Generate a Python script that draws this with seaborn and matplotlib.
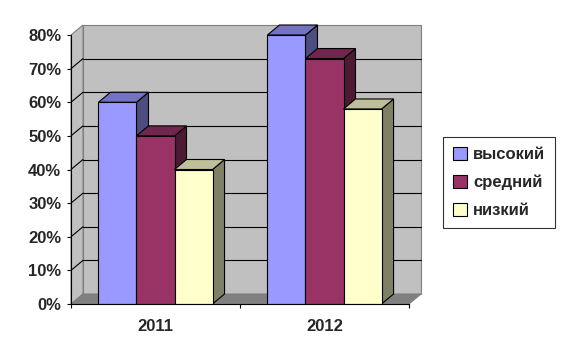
import numpy as np
import pandas as pd
import matplotlib
matplotlib.use("Agg")
import matplotlib.pyplot as plt
import matplotlib.transforms as mtransforms
from matplotlib.patches import Polygon, Patch, Rectangle
from matplotlib.ticker import FuncFormatter
import seaborn as sns

# data
years = ["2011", "2012"]
levels = ["высокий", "средний", "низкий"]
high = [0.60, 0.80]
mid = [0.50, 0.73]
low = [0.40, 0.58]
y_ticks = [0.0, 0.1, 0.2, 0.3, 0.4, 0.5, 0.6, 0.7, 0.8]

colors = ["#9999FF", "#993366", "#FFFFCC"]
WALL = "#C0C0C0"
FLOOR = "#808080"
DX, DY = 12, 10   # depth of the 3D effect in pixels
DPI = 100

df = pd.DataFrame({
    "year": years * 3,
    "level": [levels[0]] * 2 + [levels[1]] * 2 + [levels[2]] * 2,
    "value": high + mid + low,
})


def shade(hex_color, f):
    rgb = np.array(matplotlib.colors.to_rgb(hex_color)) * f
    return tuple(rgb)


sns.set_style("white")
plt.rcParams["font.family"] = ["Liberation Sans", "DejaVu Sans"]
plt.rcParams["font.weight"] = "bold"

fig = plt.figure(figsize=(5.63, 3.59), dpi=DPI)
ax = fig.add_axes([71 / 563, 1 - 304 / 359, (409 - 71) / 563, (304 - 35) / 359])

sns.barplot(data=df, x="year", y="value", hue="level", hue_order=levels,
            palette=colors, saturation=1, width=0.675, errorbar=None,
            edgecolor="black", linewidth=0.8, ax=ax, legend=False)
bars = list(ax.patches)

ax.set_xlim(-0.5, 1.5)
ax.set_ylim(0, 0.8)
ax.set_autoscale_on(False)
ax.set_xlabel("")
ax.set_ylabel("")
ax.patch.set_visible(False)

px = lambda x, y: ax.transData.transform((x, y))
back = ax.transData + mtransforms.ScaledTranslation(DX / DPI, DY / DPI, fig.dpi_scale_trans)


def add_poly(pts, fc, ec, lw=0.8, z=1):
    poly = Polygon(pts, closed=True, facecolor=fc, edgecolor=ec, linewidth=lw,
                   transform=mtransforms.IdentityTransform(), clip_on=False, zorder=z)
    ax.add_artist(poly)


# back wall
ax.add_artist(Rectangle((-0.5, 0), 2, 0.8, facecolor=WALL, edgecolor=FLOOR,
                        linewidth=0.8, transform=back, clip_on=False, zorder=0.5))
# side wall
p0, p1 = px(-0.5, 0), px(-0.5, 0.8)
add_poly([p0, p1, p1 + (DX, DY), p0 + (DX, DY)], WALL, FLOOR, z=0.6)
# floor
f0, f1 = px(-0.5, 0), px(1.5, 0)
add_poly([f0, f1, f1 + (DX, DY), f0 + (DX, DY)], FLOOR, FLOOR, z=0.7)

# gridlines on the back wall and on the side wall
for t in y_ticks[1:-1]:
    ax.plot([-0.5, 1.5], [t, t], color="black", linewidth=0.8, transform=back,
            clip_on=False, zorder=0.8)
    a = px(-0.5, t)
    b = a + (DX, DY)
    ax.add_artist(matplotlib.lines.Line2D([a[0], b[0]], [a[1], b[1]], color="black",
                                          linewidth=0.8, transform=mtransforms.IdentityTransform(),
                                          clip_on=False, zorder=0.8))

# 3D faces for each bar
hexes = [c.lower() for c in colors]
for bar in bars:
    fc = matplotlib.colors.to_hex(bar.get_facecolor()).lower()
    idx = hexes.index(fc) if fc in hexes else 0
    x0, x1 = bar.get_x(), bar.get_x() + bar.get_width()
    h = bar.get_height()
    z = 3 + 2 * idx
    bl, br, tl, tr = px(x0, 0), px(x1, 0), px(x0, h), px(x1, h)
    d = np.array([DX, DY])
    add_poly([br, tr, tr + d, br + d], shade(fc, 0.5), "black", z=z)
    add_poly([tl, tr, tr + d, tl + d], shade(fc, 0.75), "black", z=z)
    bar.set_zorder(z + 1)

# axes
for s in ["top", "right"]:
    ax.spines[s].set_visible(False)
for s in ["left", "bottom"]:
    ax.spines[s].set_color("black")
    ax.spines[s].set_linewidth(0.8)
    ax.spines[s].set_zorder(10)

ax.set_yticks(y_ticks)
ax.yaxis.set_major_formatter(FuncFormatter(lambda v, _: f"{v * 100:.0f}%"))
ax.tick_params(axis="y", direction="out", length=3, width=0.8, color="black",
               labelsize=12, pad=4, left=True)
ax.set_xticks([0, 1])
ax.set_xticklabels(years)
ax.set_xticks([-0.5, 0.5, 1.5], minor=True)
ax.tick_params(axis="x", which="major", length=0, labelsize=12, pad=11)
ax.tick_params(axis="x", which="minor", direction="out", length=3, width=0.8,
               color="black", bottom=True)
for lab in ax.get_xticklabels() + ax.get_yticklabels():
    lab.set_fontweight("bold")

handles = [Patch(facecolor=c, edgecolor="black", linewidth=0.8) for c in colors]
leg = ax.legend(handles, levels, loc="upper left",
                bbox_to_anchor=(443 / 563, 1 - 137 / 359), bbox_transform=fig.transFigure,
                frameon=True, fancybox=False, prop={"weight": "bold", "size": 12},
                handlelength=0.85, handleheight=0.85, handletextpad=0.35,
                labelspacing=0.75, borderpad=0.6, borderaxespad=0)
leg.get_frame().set_edgecolor("black")
leg.get_frame().set_linewidth(0.8)
leg.set_zorder(20)

fig.savefig("out.png", dpi=DPI)
